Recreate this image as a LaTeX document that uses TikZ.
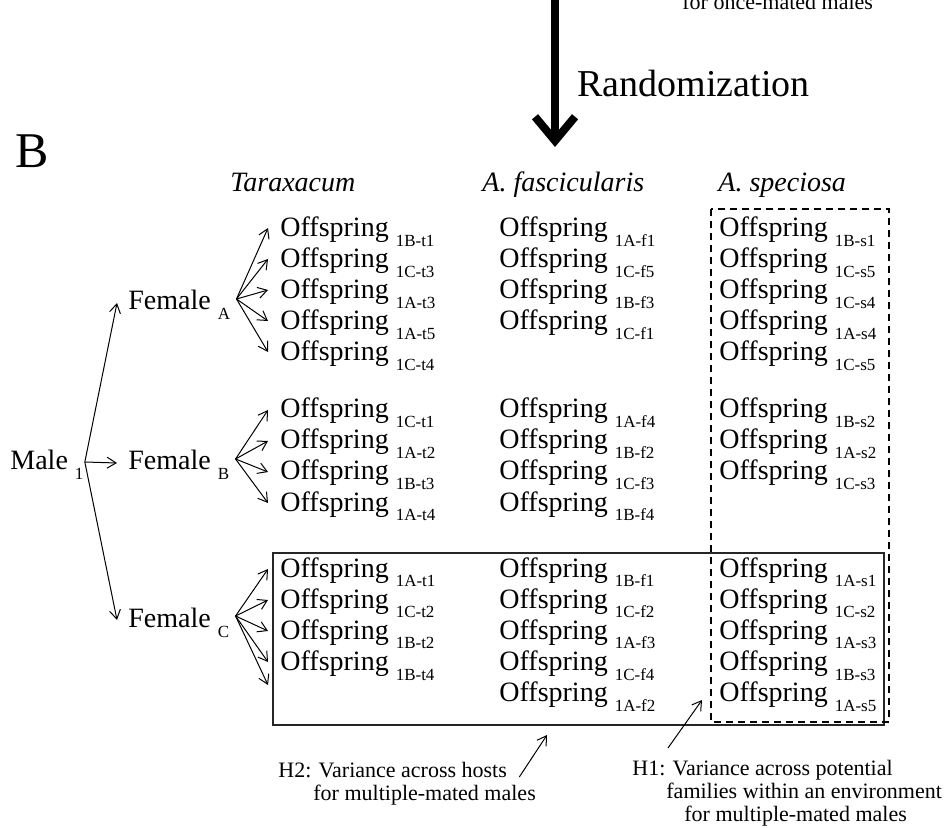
\documentclass[tikz,border=0pt]{standalone}
\usepackage{fontspec}
\setmainfont{Liberation Serif}
\usetikzlibrary{calc}
\usetikzlibrary{arrows.meta}

\tikzset{
  txt/.style={anchor=base west,inner sep=0pt,font=\fontsize{14}{16}\selectfont},
  note/.style={anchor=base west,inner sep=0pt,font=\fontsize{11}{13}\selectfont},
  arr/.style={line width=0.5pt,-{Straight Barb[length=4.5pt,width=5.5pt]}},
  dashbox/.style={line width=0.55pt,dash pattern=on 3.5pt off 2.5pt},
}
\newcommand{\sub}[1]{\raisebox{-5pt}{\fontsize{8.5}{9}\selectfont #1}}
\newcommand{\offs}[1]{Offspring \sub{#1}}

\begin{document}
\begin{tikzpicture}[x=0.5pt,y=-0.5pt]
    \useasboundingbox (0,0) rectangle (948,828);
    \clip (0,0) rectangle (948,828);
    \node[note] (once) at (682,10) {for once-mated males};
    \coordinate (randTop) at (555,-10);
    \coordinate (randTip) at (555,147);
    \draw[line width=4pt,-{Straight Barb[length=12pt,width=20pt]}] (randTop) -- (randTip);
    \node[txt,font=\fontsize{19}{22}\selectfont] (rand) at (577,97) {Randomization};
    \node[txt,font=\fontsize{25}{28}\selectfont] (panel) at (15,168) {B};
    \node[txt,font=\fontsize{14}{16}\itshape] (hT) at (230,192) {Taraxacum};
    \node[txt,font=\fontsize{14}{16}\itshape] (hF) at (482,192) {A. fascicularis};
    \node[txt,font=\fontsize{14}{16}\itshape] (hS) at (718,192) {A. speciosa};
    \node[txt] (male) at (10,470) {Male \sub{1}};
    \node[txt] (femA) at (128,310) {Female \sub{A}};
    \node[txt] (femB) at (128,470) {Female \sub{B}};
    \node[txt] (femC) at (128,627) {Female \sub{C}};
    \foreach \f in {femA,femB,femC}
        \draw[arr] ($(male.base east)+(1,-8)$) -- ($(\f.base west)+(-11,-7)$);
    \foreach \nm/\xx/\yy/\lst in {
        tA/280/237/{1B-t1,1C-t3,1A-t3,1A-t5,1C-t4},
        tB/280/418/{1C-t1,1A-t2,1B-t3,1A-t4},
        tC/280/577/{1A-t1,1C-t2,1B-t2,1B-t4},
        fA/499/237/{1A-f1,1C-f5,1B-f3,1C-f1},
        fB/499/418/{1A-f4,1B-f2,1C-f3,1B-f4},
        fC/499/577/{1B-f1,1C-f2,1A-f3,1C-f4,1A-f2},
        sA/719/237/{1B-s1,1C-s5,1C-s4,1A-s4,1C-s5},
        sB/719/418/{1B-s2,1A-s2,1C-s3},
        sC/719/577/{1A-s1,1C-s2,1A-s3,1B-s3,1A-s5}}
        \foreach \lbl [count=\i] in \lst
            \node[txt] (\nm\i) at (\xx,{\yy+31*(\i-1)}) {\offs{\lbl}};
    \foreach \i in {1,...,5}
        \draw[arr] ($(femA.base east)+(6,-11)$) -- ($(tA\i.base west)+(-12,-9)$);
    \foreach \i in {1,...,4}
        \draw[arr] ($(femB.base east)+(6,-11)$) -- ($(tB\i.base west)+(-12,-8)$);
    \foreach \i in {1,...,4}
        \draw[arr] ($(femC.base east)+(6,-11)$) -- ($(tC\i.base west)+(-12,-8)$);
    \coordinate (tipC5) at (268,685);
    \draw[arr] ($(femC.base east)+(6,-11)$) -- (tipC5);
    \draw[line width=0.6pt,black!85] (273,553) rectangle (884,725);
    \draw[dashbox] (711,209) rectangle (889,722);
    \node[note] (h2a) at (278,777) {H2: Variance across hosts};
    \node[note] (h2b) at (313,800) {for multiple-mated males};
    \node[note] (h1a) at (632,775) {H1: Variance across potential};
    \node[note] (h1b) at (666,798) {families within an environment};
    \node[note] (h1c) at (684,821) {for multiple-mated males};
    \coordinate (h2tip) at (547,735);
    \coordinate (h1tip) at (702,700);
    \draw[arr] ($(h2a.base east)+(12,0)$) -- (h2tip);
    \draw[arr] ($(h1a.base west)+(36,-27)$) -- (h1tip);
\end{tikzpicture}
\end{document}
